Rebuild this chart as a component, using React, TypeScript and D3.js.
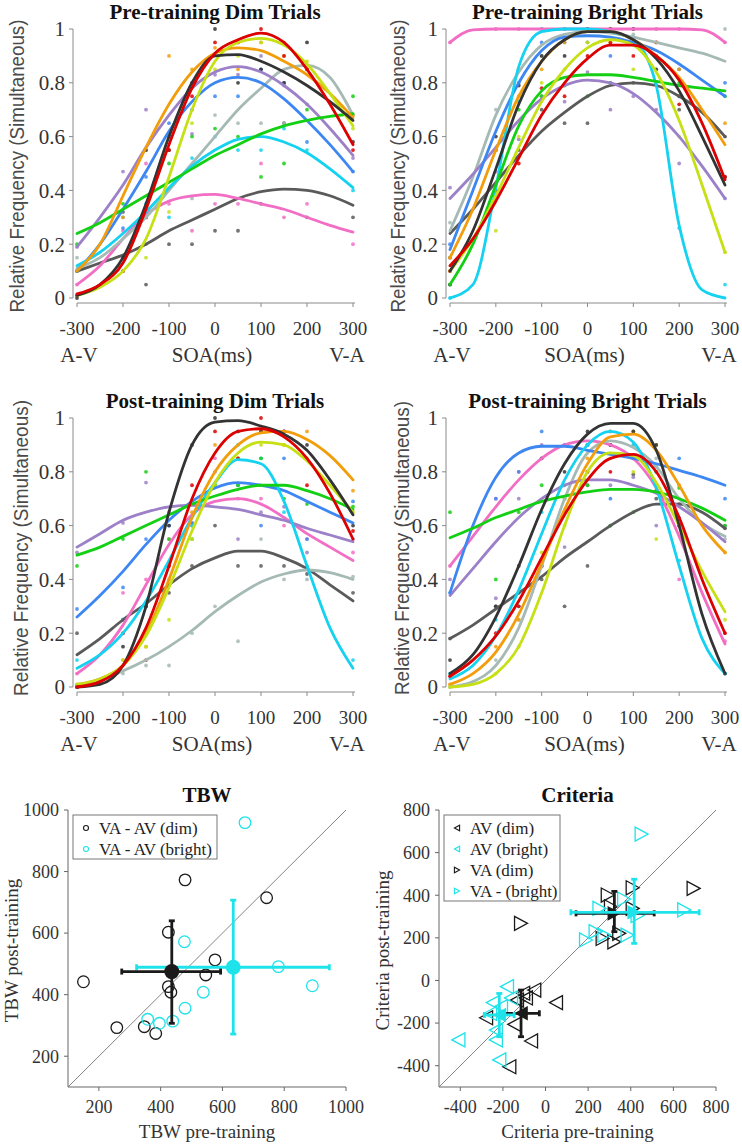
import React from 'react';
import * as d3 from 'd3';

// ---------- data: psychometric fits ----------
const SOA_FIT = [-300, -250, -200, -150, -100, -50, 0, 50, 100, 150, 200, 250, 300];
const SOA_DOTS = [-300, -200, -150, -100, -50, 0, 50, 100, 150, 200, 300];
const SOA_TICKS = [-300, -200, -100, 0, 100, 200, 300];
const FREQ_TICKS = [0, 0.2, 0.4, 0.6, 0.8, 1];

// subject order: red, yellowgreen, orange, black, purple, blue, lightgray, green, cyan, pink, darkgray
const SUBJECT_COLORS = ['#dc0000', '#c6e014', '#f29e0c', '#333333', '#9c80c8', '#3d87f2', '#a6bab5', '#14d014', '#14d2f0', '#f26ec4', '#5a5a5a'];
const DRAW_ORDER = [10, 9, 6, 4, 5, 8, 7, 2, 1, 3, 0];

const preDimFit = [
  [0.015, 0.05, 0.13, 0.33, 0.57, 0.78, 0.91, 0.96, 0.985, 0.95, 0.85, 0.72, 0.57],
  [0.01, 0.04, 0.1, 0.22, 0.45, 0.7, 0.88, 0.95, 0.965, 0.94, 0.87, 0.76, 0.64],
  [0.1, 0.2, 0.38, 0.56, 0.72, 0.84, 0.91, 0.93, 0.92, 0.88, 0.83, 0.76, 0.67],
  [0.01, 0.05, 0.15, 0.35, 0.6, 0.8, 0.9, 0.905, 0.88, 0.84, 0.79, 0.73, 0.66],
  [0.19, 0.3, 0.42, 0.56, 0.68, 0.78, 0.84, 0.86, 0.84, 0.79, 0.72, 0.63, 0.53],
  [0.1, 0.2, 0.33, 0.47, 0.62, 0.73, 0.8, 0.82, 0.8, 0.74, 0.66, 0.57, 0.47],
  [0.11, 0.15, 0.22, 0.3, 0.4, 0.5, 0.6, 0.7, 0.78, 0.85, 0.865, 0.82, 0.68],
  [0.24, 0.28, 0.33, 0.38, 0.43, 0.48, 0.53, 0.57, 0.61, 0.64, 0.66, 0.675, 0.685],
  [0.12, 0.17, 0.24, 0.32, 0.41, 0.49, 0.55, 0.59, 0.6, 0.58, 0.54, 0.48, 0.41],
  [0.05, 0.12, 0.22, 0.31, 0.36, 0.38, 0.385, 0.37, 0.35, 0.33, 0.3, 0.27, 0.245],
  [0.1, 0.13, 0.16, 0.2, 0.25, 0.29, 0.33, 0.37, 0.395, 0.405, 0.4, 0.38, 0.345],
];
const preDimDots = [
  [0.01, 0.1, 0.3, 0.55, 0.75, 0.95, 0.95, 1.0, 0.9, 0.85, 0.55],
  [0.01, 0.1, 0.15, 0.32, 0.65, 0.85, 0.9, 0.95, 0.95, 0.88, 0.63],
  [0.1, 0.3, 0.55, 0.9, 0.85, 0.93, 0.85, 0.95, 0.9, 0.85, 0.68],
  [0.0, 0.15, 0.55, 0.55, 0.8, 1.0, 0.8, 0.85, 0.8, 0.95, 0.58],
  [0.19, 0.47, 0.7, 0.6, 0.61, 0.83, 0.83, 0.9, 0.79, 0.72, 0.52],
  [0.1, 0.26, 0.45, 0.65, 0.7, 0.75, 0.75, 0.85, 0.8, 0.58, 0.47],
  [0.15, 0.15, 0.2, 0.6, 0.37, 0.68, 0.65, 0.65, 0.65, 0.85, 0.68],
  [0.2, 0.35, 0.3, 0.5, 0.6, 0.63, 0.6, 0.45, 0.5, 0.7, 0.75],
  [0.1, 0.3, 0.35, 0.3, 0.52, 0.6, 0.55, 0.55, 0.63, 0.55, 0.4],
  [0.05, 0.25, 0.5, 0.35, 0.25, 0.35, 0.35, 0.5, 0.3, 0.35, 0.2],
  [0.1, 0.32, 0.05, 0.2, 0.2, 0.25, 0.25, 0.35, 0.65, 0.3, 0.3],
];

const preBrightFit = [
  [0.12, 0.22, 0.36, 0.52, 0.68, 0.8, 0.89, 0.94, 0.94, 0.9, 0.81, 0.65, 0.44],
  [0.1, 0.22, 0.38, 0.56, 0.73, 0.85, 0.93, 0.96, 0.94, 0.84, 0.66, 0.42, 0.17],
  [0.15, 0.33, 0.55, 0.75, 0.88, 0.96, 0.99, 0.99, 0.96, 0.9, 0.82, 0.7, 0.57],
  [0.1, 0.25, 0.48, 0.72, 0.88, 0.96, 0.99, 0.99, 0.96, 0.89, 0.77, 0.6, 0.42],
  [0.37, 0.46, 0.56, 0.66, 0.74, 0.79, 0.81, 0.8, 0.76, 0.69, 0.6, 0.49, 0.37],
  [0.18, 0.4, 0.62, 0.8, 0.92, 0.97, 0.975, 0.97, 0.95, 0.92, 0.87, 0.81, 0.75],
  [0.25, 0.45, 0.68, 0.84, 0.94, 0.98, 0.99, 0.985, 0.97, 0.95, 0.93, 0.91, 0.88],
  [0.05, 0.2, 0.42, 0.64, 0.77, 0.82, 0.83, 0.83, 0.82, 0.805, 0.79, 0.78, 0.77],
  [0.0, 0.05, 0.41, 0.86, 0.99, 1.0, 1.0, 0.99, 0.96, 0.79, 0.27, 0.03, 0.0],
  [0.95, 0.997, 1.0, 1.0, 1.0, 1.0, 1.0, 1.0, 1.0, 1.0, 1.0, 0.997, 0.95],
  [0.24, 0.33, 0.43, 0.53, 0.62, 0.69, 0.75, 0.79, 0.8, 0.79, 0.75, 0.69, 0.6],
];
const preBrightDots = [
  [0.1, 0.4, 0.5, 0.78, 0.75, 0.9, 0.95, 0.9, 0.95, 0.72, 0.45],
  [0.1, 0.25, 0.6, 0.8, 0.85, 0.95, 0.95, 0.85, 0.8, 0.6, 0.17],
  [0.15, 0.55, 0.75, 0.85, 0.95, 1.0, 1.0, 0.95, 0.95, 0.85, 0.65],
  [0.05, 0.6, 0.79, 0.9, 0.9, 1.0, 1.0, 1.0, 0.85, 0.75, 0.45],
  [0.41, 0.47, 0.59, 0.75, 0.73, 0.84, 0.7, 0.75, 0.7, 0.5, 0.37],
  [0.2, 0.55, 0.8, 0.95, 0.95, 0.95, 0.9, 0.95, 0.9, 0.85, 0.8],
  [0.28, 0.7, 0.85, 0.9, 1.0, 1.0, 0.95, 0.98, 0.9, 0.85, 1.0],
  [0.05, 0.4, 0.7, 0.75, 0.79, 0.75, 0.8, 0.95, 0.8, 0.8, 0.75],
  [0.0, 0.4, 0.73, 1.0, 1.0, 1.0, 1.0, 0.95, 0.8, 0.26, 0.05],
  [0.95, 1.0, 1.0, 1.0, 1.0, 1.0, 1.0, 1.0, 1.0, 1.0, 0.95],
  [0.15, 0.55, 0.55, 0.7, 0.65, 0.65, 0.8, 0.8, 0.8, 0.7, 0.6],
];

const postDimFit = [
  [0.0, 0.02, 0.08, 0.22, 0.45, 0.7, 0.87, 0.95, 0.96, 0.93, 0.85, 0.72, 0.55],
  [0.01, 0.03, 0.08, 0.19, 0.37, 0.58, 0.76, 0.87, 0.91, 0.9, 0.84, 0.75, 0.65],
  [0.01, 0.03, 0.08, 0.2, 0.4, 0.63, 0.8, 0.9, 0.945, 0.95, 0.92, 0.86, 0.77],
  [0.0, 0.01, 0.08, 0.3, 0.65, 0.9, 0.985, 0.99, 0.97, 0.94, 0.88, 0.77, 0.64],
  [0.52, 0.57, 0.62, 0.65, 0.67, 0.675, 0.67, 0.66, 0.64, 0.62, 0.59, 0.565, 0.54],
  [0.26, 0.34, 0.43, 0.53, 0.62, 0.69, 0.74, 0.76, 0.75, 0.73, 0.69, 0.65, 0.61],
  [0.0, 0.03, 0.06, 0.1, 0.15, 0.21, 0.28, 0.34, 0.39, 0.42, 0.435, 0.425, 0.4],
  [0.49, 0.52, 0.56, 0.6, 0.64, 0.68, 0.71, 0.735, 0.75, 0.75, 0.73, 0.7, 0.66],
  [0.07, 0.12, 0.2, 0.32, 0.47, 0.63, 0.76, 0.845, 0.83, 0.69, 0.45, 0.22, 0.07],
  [0.05, 0.12, 0.23, 0.38, 0.53, 0.64, 0.69, 0.7, 0.68, 0.63, 0.57, 0.52, 0.47],
  [0.12, 0.18, 0.25, 0.31, 0.38, 0.44, 0.48, 0.505, 0.505, 0.48, 0.44, 0.38, 0.32],
];
const postDimDots = [
  [0.0, 0.2, 0.1, 0.45, 0.75, 0.95, 0.85, 1.0, 0.95, 0.75, 0.58],
  [0.0, 0.1, 0.15, 0.25, 0.55, 0.75, 0.85, 0.9, 0.9, 0.85, 0.65],
  [0.01, 0.1, 0.15, 0.4, 0.65, 0.9, 0.85, 0.95, 0.9, 0.95, 0.73],
  [0.0, 0.15, 0.3, 0.6, 0.9, 1.0, 0.95, 0.95, 0.95, 0.9, 0.6],
  [0.5, 0.61, 0.76, 0.65, 0.6, 0.8, 0.55, 0.65, 0.67, 0.5, 0.55],
  [0.29, 0.37, 0.55, 0.6, 0.61, 0.75, 0.75, 0.6, 0.85, 0.55, 0.69],
  [0.0, 0.05, 0.08, 0.08, 0.2, 0.3, 0.17, 0.55, 0.4, 0.4, 0.41],
  [0.45, 0.55, 0.8, 0.55, 0.55, 0.75, 0.75, 0.85, 0.7, 0.68, 0.67],
  [0.1, 0.25, 0.3, 0.45, 0.6, 0.75, 0.9, 0.85, 0.65, 0.45, 0.1],
  [0.05, 0.35, 0.4, 0.55, 0.61, 0.85, 0.7, 0.7, 0.6, 0.55, 0.5],
  [0.2, 0.25, 0.3, 0.35, 0.45, 0.6, 0.45, 0.45, 0.45, 0.42, 0.35],
];

const postBrightFit = [
  [0.04, 0.1, 0.19, 0.32, 0.48, 0.64, 0.77, 0.85, 0.865, 0.8, 0.63, 0.4, 0.2],
  [0.0, 0.01, 0.05, 0.15, 0.35, 0.6, 0.8, 0.87, 0.86, 0.76, 0.6, 0.43, 0.28],
  [0.01, 0.05, 0.13, 0.27, 0.46, 0.66, 0.83, 0.93, 0.94, 0.88, 0.75, 0.6, 0.5],
  [0.05, 0.12, 0.26, 0.45, 0.66, 0.83, 0.94, 0.98, 0.98, 0.88, 0.6, 0.27, 0.05],
  [0.34, 0.44, 0.54, 0.63, 0.7, 0.75, 0.77, 0.77, 0.75, 0.72, 0.67, 0.61, 0.54],
  [0.35, 0.6, 0.78, 0.87, 0.895, 0.895, 0.88, 0.865, 0.85, 0.83, 0.805, 0.78, 0.75],
  [0.0, 0.02, 0.08, 0.22, 0.45, 0.7, 0.87, 0.915, 0.89, 0.82, 0.7, 0.61, 0.56],
  [0.555, 0.59, 0.63, 0.66, 0.69, 0.71, 0.725, 0.735, 0.735, 0.725, 0.7, 0.665, 0.62],
  [0.03, 0.08, 0.19, 0.36, 0.57, 0.77, 0.9, 0.95, 0.91, 0.74, 0.45, 0.18, 0.05],
  [0.45, 0.56, 0.67, 0.77, 0.85, 0.9, 0.915, 0.9, 0.85, 0.74, 0.56, 0.35, 0.16],
  [0.18, 0.23, 0.29, 0.35, 0.41, 0.48, 0.54, 0.6, 0.65, 0.68, 0.68, 0.65, 0.59],
];
const postBrightDots = [
  [0.04, 0.2, 0.3, 0.45, 0.65, 0.8, 0.8, 0.85, 0.73, 0.6, 0.2],
  [0.0, 0.05, 0.15, 0.5, 0.6, 0.8, 0.85, 0.8, 0.55, 0.6, 0.25],
  [0.01, 0.15, 0.25, 0.45, 0.65, 0.85, 0.95, 0.95, 0.9, 0.75, 0.5],
  [0.1, 0.3, 0.45, 0.85, 0.8, 0.95, 0.9, 0.95, 0.9, 0.6, 0.05],
  [0.4, 0.33, 0.7, 0.9, 0.52, 0.75, 0.75, 0.78, 0.6, 0.63, 0.6],
  [0.35, 0.7, 0.8, 0.95, 0.9, 0.9, 0.7, 0.85, 0.8, 0.85, 0.7],
  [0.0, 0.1, 0.25, 0.45, 0.7, 0.9, 0.9, 0.9, 0.85, 0.7, 0.55],
  [0.65, 0.4, 0.65, 0.75, 0.7, 0.75, 0.6, 0.65, 0.8, 0.74, 0.6],
  [0.05, 0.25, 0.3, 0.65, 0.75, 0.9, 0.95, 0.9, 0.82, 0.47, 0.05],
  [0.45, 0.7, 0.8, 0.85, 0.9, 0.9, 0.9, 0.85, 0.75, 0.4, 0.17],
  [0.18, 0.3, 0.35, 0.4, 0.3, 0.45, 0.6, 0.79, 0.7, 0.68, 0.59],
];

// ---------- data: TBW scatter ----------
const TBW_TICKS = [200, 400, 600, 800, 1000];
const tbwDimPre = [150, 258, 347, 384, 479, 425, 425, 433, 546, 576, 743];
const tbwDimPost = [442, 293, 296, 274, 773, 603, 426, 408, 464, 513, 715];
const tbwBrightPre = [673, 477, 538, 479, 358, 396, 439, 781, 891];
const tbwBrightPost = [959, 572, 408, 356, 320, 307, 314, 491, 429];
const tbwDimMean = [436, 475];
const tbwDimErrX = [274, 594];
const tbwDimErrY = [307, 640];
const tbwBrightMean = [635, 489];
const tbwBrightErrX = [322, 946];
const tbwBrightErrY = [272, 707];

// ---------- data: Criteria scatter ----------
const CRIT_XTICKS = [-400, -200, 0, 200, 400, 600, 800];
const CRIT_YTICKS = [-400, -200, 0, 200, 400, 600, 800];
const critAvDimPre = [49, -53, -68, -170, -279, -147, -92, -134, -105];
const critAvDimPost = [-104, -45, -284, -405, -175, -206, -82, -92, -60];
const critAvBrightPre = [-409, -217, -233, -181, -248, -162, -233, -209, -260];
const critAvBrightPost = [-279, -373, -279, -29, -104, -82, -233, -123, -155];
const critVaDimPre = [-115, 695, 409, 292, 268, 323, 346, 307, 409];
const critVaDimPost = [268, 432, 435, 401, 197, 181, 221, 346, 338];
const critVaBrightPre = [451, 651, 253, 190, 235, 276, 385, 369, 432];
const critVaBrightPost = [687, 331, 338, 190, 229, 213, 213, 382, 305];
const critAvDimMean = [-115, -154];
const critAvDimErrX = [-194, -29];
const critAvDimErrY = [-264, -45];
const critAvBrightMean = [-217, -162];
const critAvBrightErrX = [-287, -147];
const critAvBrightErrY = [-264, -61];
const critVaDimMean = [323, 315];
const critVaDimErrX = [143, 510];
const critVaDimErrY = [229, 418];
const critVaBrightMean = [416, 320];
const critVaBrightErrX = [119, 721];
const critVaBrightErrY = [174, 475];

const SERIF = "'Liberation Serif', 'Times New Roman', serif";
const SANS = "'Liberation Sans', Arial, sans-serif";
const CYAN = '#1ee3ea';
const BLACK = '#1a1a1a';

type FitProps = {
  title: string;
  xr: [number, number];
  yr: [number, number];
  yTitleX: number;
  yTitleY: number;
  yTitleLen: number;
  fits: number[][];
  dots: number[][];
};

function FitPanel({ title, xr, yr, yTitleX, yTitleY, yTitleLen, fits, dots }: FitProps) {
  const x = d3.scaleLinear().domain([-300, 300]).range(xr);
  const y = d3.scaleLinear().domain([0, 1]).range(yr);
  const line = d3
    .line<number>()
    .x((_, i) => x(SOA_FIT[i]))
    .y((d) => y(d))
    .curve(d3.curveMonotoneX);
  const axX = xr[0] - 4;
  const axY = yr[0] + 5;
  const axisColor = '#8a8a8a';
  return (
    <g>
      <text x={(xr[0] + xr[1]) / 2} y={yr[1] - 10} textAnchor="middle" fontFamily={SERIF} fontWeight="bold" fontSize={21} fill="#111">
        {title}
      </text>
      <line x1={axX} x2={axX} y1={y(0)} y2={y(1)} stroke={axisColor} strokeWidth={1} />
      {FREQ_TICKS.map((t) => (
        <g key={t}>
          <line x1={axX - 4} x2={axX} y1={y(t)} y2={y(t)} stroke={axisColor} />
          <text x={axX - 8} y={y(t)} dy="0.35em" textAnchor="end" fontFamily={SERIF} fontSize={21} fill="#333">
            {t === 0 || t === 1 ? String(t) : t.toFixed(1)}
          </text>
        </g>
      ))}
      <line x1={xr[0]} x2={xr[1] + 2} y1={axY} y2={axY} stroke={axisColor} strokeWidth={1} />
      {SOA_TICKS.map((t) => (
        <g key={t}>
          <line x1={x(t)} x2={x(t)} y1={axY} y2={axY + 4} stroke={axisColor} />
          <text x={x(t)} y={yr[0] + 37} textAnchor="middle" fontFamily={SERIF} fontSize={19} fill="#333">
            {t}
          </text>
        </g>
      ))}
      <text x={x(-300) + 2} y={yr[0] + 64} textAnchor="middle" fontFamily={SERIF} fontSize={21} fill="#333">A-V</text>
      <text x={x(0) - 3} y={yr[0] + 64} textAnchor="middle" fontFamily={SERIF} fontSize={21} fill="#333">SOA(ms)</text>
      <text x={x(300) - 6} y={yr[0] + 64} textAnchor="middle" fontFamily={SERIF} fontSize={21} fill="#333">V-A</text>
      <text
        transform={`translate(${yTitleX},${yTitleY}) rotate(-90)`}
        textAnchor="middle"
        dy="0.35em"
        fontFamily={SANS}
        fontSize={20}
        fill="#4a4a4a"
        textLength={yTitleLen}
        lengthAdjust="spacingAndGlyphs"
      >
        Relative Frequency (Simultaneous)
      </text>
      {DRAW_ORDER.map((s) => (
        <g key={'d' + s}>
          {dots[s].map((v, i) => (
            <circle key={i} cx={x(SOA_DOTS[i])} cy={y(v)} r={1.9} fill={SUBJECT_COLORS[s]} opacity={0.85} />
          ))}
        </g>
      ))}
      {DRAW_ORDER.map((s) => (
        <path key={'c' + s} d={line(fits[s]) || ''} fill="none" stroke={SUBJECT_COLORS[s]} strokeWidth={2.8} strokeLinecap="round" />
      ))}
    </g>
  );
}

function triPath(dir: 'left' | 'right', s: number) {
  const h = s * 1.08;
  return dir === 'left' ? `M${-s},0L${s},${-h}L${s},${h}Z` : `M${s},0L${-s},${-h}L${-s},${h}Z`;
}

function ErrorCross({ x, y, mean, ex, ey, color, marker }: any) {
  const cap = 3;
  return (
    <g stroke={color} strokeWidth={2.8}>
      <line x1={x(ex[0])} x2={x(ex[1])} y1={y(mean[1])} y2={y(mean[1])} />
      <line x1={x(ex[0])} x2={x(ex[0])} y1={y(mean[1]) - cap} y2={y(mean[1]) + cap} />
      <line x1={x(ex[1])} x2={x(ex[1])} y1={y(mean[1]) - cap} y2={y(mean[1]) + cap} />
      <line x1={x(mean[0])} x2={x(mean[0])} y1={y(ey[0])} y2={y(ey[1])} />
      <line x1={x(mean[0]) - cap} x2={x(mean[0]) + cap} y1={y(ey[0])} y2={y(ey[0])} />
      <line x1={x(mean[0]) - cap} x2={x(mean[0]) + cap} y1={y(ey[1])} y2={y(ey[1])} />
      {marker === 'circle' ? (
        <circle cx={x(mean[0])} cy={y(mean[1])} r={7.5} fill={color} stroke="none" />
      ) : (
        <path transform={`translate(${x(mean[0])},${y(mean[1])})`} d={triPath(marker, 6.8)} fill={color} stroke="none" />
      )}
    </g>
  );
}

function ScatterAxes({ x, y, xTicks, yTicks, title, xTitle, yTitle }: any) {
  const [x0, x1] = x.range();
  const [y0, y1] = y.range();
  const c = '#666';
  return (
    <g>
      <text x={(x0 + x1) / 2} y={y1 - 8} textAnchor="middle" fontFamily={SERIF} fontWeight="bold" fontSize={21} fill="#111">
        {title}
      </text>
      <line x1={x0} x2={x0} y1={y0} y2={y1} stroke={c} />
      <line x1={x0} x2={x1} y1={y0} y2={y0} stroke={c} />
      {yTicks.map((t: number) => (
        <g key={'y' + t}>
          <line x1={x0 - 4} x2={x0} y1={y(t)} y2={y(t)} stroke={c} />
          <text x={x0 - 9} y={y(t)} dy="0.35em" textAnchor="end" fontFamily={SERIF} fontSize={18} fill="#333">
            {t}
          </text>
        </g>
      ))}
      {xTicks.map((t: number) => (
        <g key={'x' + t}>
          <line x1={x(t)} x2={x(t)} y1={y0} y2={y0 + 4} stroke={c} />
          <text x={x(t)} y={y0 + 26} textAnchor="middle" fontFamily={SERIF} fontSize={18} fill="#333">
            {t}
          </text>
        </g>
      ))}
      <text x={(x0 + x1) / 2} y={y0 + 51} textAnchor="middle" fontFamily={SERIF} fontSize={19} fill="#333">
        {xTitle}
      </text>
      <text transform={`translate(${x0 - 50},${(y0 + y1) / 2 + 2}) rotate(-90)`} textAnchor="middle" fontFamily={SERIF} fontSize={19} fill="#333">
        {yTitle}
      </text>
    </g>
  );
}

function TbwPanel() {
  const x = d3.scaleLinear().domain([100, 1000]).range([68, 346]);
  const y = d3.scaleLinear().domain([100, 1000]).range([1087, 810]);
  return (
    <g>
      <ScatterAxes x={x} y={y} xTicks={TBW_TICKS} yTicks={TBW_TICKS} title="TBW" xTitle="TBW pre-training" yTitle="TBW post-training" />
      <line x1={x(100)} y1={y(100)} x2={x(1000)} y2={y(1000)} stroke="#777" strokeWidth={0.9} />
      {tbwDimPre.map((v, i) => (
        <circle key={'k' + i} cx={x(v)} cy={y(tbwDimPost[i])} r={5.8} fill="none" stroke={BLACK} strokeWidth={1.3} />
      ))}
      {tbwBrightPre.map((v, i) => (
        <circle key={'c' + i} cx={x(v)} cy={y(tbwBrightPost[i])} r={5.8} fill="none" stroke={CYAN} strokeWidth={1.3} />
      ))}
      <ErrorCross x={x} y={y} mean={tbwBrightMean} ex={tbwBrightErrX} ey={tbwBrightErrY} color={CYAN} marker="circle" />
      <ErrorCross x={x} y={y} mean={tbwDimMean} ex={tbwDimErrX} ey={tbwDimErrY} color={BLACK} marker="circle" />
      <rect x={73} y={815} width={144} height={44} fill="#fff" stroke="#777" strokeWidth={1} />
      <circle cx={86} cy={828} r={2.5} fill="none" stroke={BLACK} strokeWidth={1.1} />
      <text x={99} y={834} fontFamily={SERIF} fontSize={17} fill="#222">VA - AV (dim)</text>
      <circle cx={86} cy={849} r={2.5} fill="none" stroke={CYAN} strokeWidth={1.1} />
      <text x={99} y={855} fontFamily={SERIF} fontSize={17} fill="#222">VA - AV (bright)</text>
    </g>
  );
}

function CriteriaPanel() {
  const x = d3.scaleLinear().domain([-500, 800]).range([439, 716]);
  const y = d3.scaleLinear().domain([-500, 800]).range([1087, 810]);
  const sets = [
    { pre: critAvDimPre, post: critAvDimPost, color: BLACK, dir: 'left' as const },
    { pre: critVaDimPre, post: critVaDimPost, color: BLACK, dir: 'right' as const },
    { pre: critAvBrightPre, post: critAvBrightPost, color: CYAN, dir: 'left' as const },
    { pre: critVaBrightPre, post: critVaBrightPost, color: CYAN, dir: 'right' as const },
  ];
  const legend = [
    { label: 'AV (dim)', color: BLACK, dir: 'left' as const },
    { label: 'AV (bright)', color: CYAN, dir: 'left' as const },
    { label: 'VA (dim)', color: BLACK, dir: 'right' as const },
    { label: 'VA - (bright)', color: CYAN, dir: 'right' as const },
  ];
  return (
    <g>
      <ScatterAxes x={x} y={y} xTicks={CRIT_XTICKS} yTicks={CRIT_YTICKS} title="Criteria" xTitle="Criteria pre-training" yTitle="Criteria post-training" />
      <line x1={x(-500)} y1={y(-500)} x2={x(800)} y2={y(800)} stroke="#777" strokeWidth={0.9} />
      {sets.map((s, k) => (
        <g key={k}>
          {s.pre.map((v, i) => (
            <path key={i} transform={`translate(${x(v)},${y(s.post[i])})`} d={triPath(s.dir, 6.5)} fill="none" stroke={s.color} strokeWidth={1.3} />
          ))}
        </g>
      ))}
      <ErrorCross x={x} y={y} mean={critAvDimMean} ex={critAvDimErrX} ey={critAvDimErrY} color={BLACK} marker="left" />
      <ErrorCross x={x} y={y} mean={critVaDimMean} ex={critVaDimErrX} ey={critVaDimErrY} color={BLACK} marker="right" />
      <ErrorCross x={x} y={y} mean={critAvBrightMean} ex={critAvBrightErrX} ey={critAvBrightErrY} color={CYAN} marker="left" />
      <ErrorCross x={x} y={y} mean={critVaBrightMean} ex={critVaBrightErrX} ey={critVaBrightErrY} color={CYAN} marker="right" />
      <rect x={444} y={815} width={116} height={86} fill="#fff" stroke="#777" strokeWidth={1} />
      {legend.map((l, i) => (
        <g key={l.label}>
          <path transform={`translate(457,${828 + i * 21})`} d={triPath(l.dir, 2.6)} fill="none" stroke={l.color} strokeWidth={1.1} />
          <text x={470} y={834 + i * 21} fontFamily={SERIF} fontSize={17} fill="#222">{l.label}</text>
        </g>
      ))}
    </g>
  );
}

export default function App() {
  return (
    <svg width={742} height={1145} viewBox="0 0 742 1145" style={{ position: 'absolute', left: 0, top: 0, background: '#fff' }}>
      <rect width={742} height={1145} fill="#fff" />
      <FitPanel title="Pre-training Dim Trials" xr={[77, 353]} yr={[298, 29]} yTitleX={17} yTitleY={166} yTitleLen={293} fits={preDimFit} dots={preDimDots} />
      <FitPanel title="Pre-training Bright Trials" xr={[450, 725]} yr={[298, 29]} yTitleX={398} yTitleY={166} yTitleLen={293} fits={preBrightFit} dots={preBrightDots} />
      <FitPanel title="Post-training Dim Trials" xr={[77, 353]} yr={[687, 418]} yTitleX={21} yTitleY={548} yTitleLen={296} fits={postDimFit} dots={postDimDots} />
      <FitPanel title="Post-training Bright Trials" xr={[450, 725]} yr={[687, 418]} yTitleX={402} yTitleY={548} yTitleLen={294} fits={postBrightFit} dots={postBrightDots} />
      <TbwPanel />
      <CriteriaPanel />
    </svg>
  );
}
